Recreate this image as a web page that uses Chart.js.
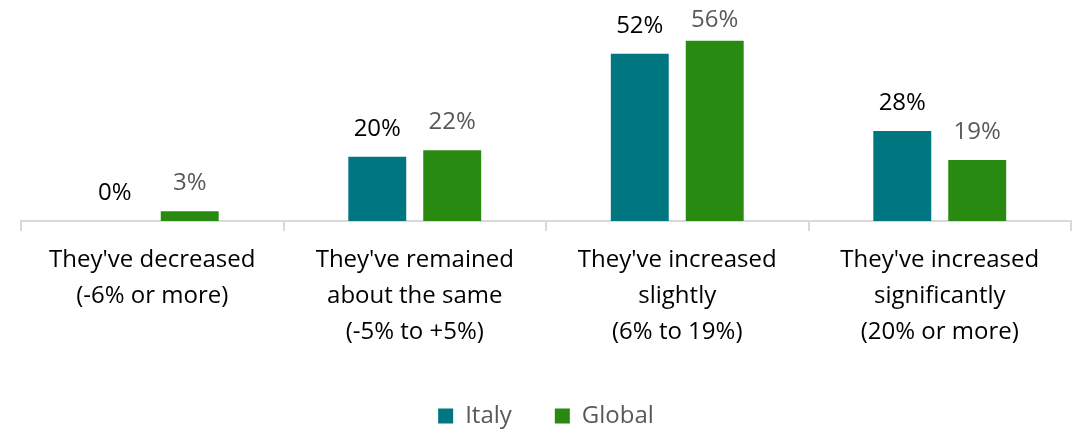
<!DOCTYPE html>
<html>
<head>
<meta charset="utf-8">
<script src="https://cdn.jsdelivr.net/npm/chart.js@4"></script>
<style>
  html, body { margin: 0; padding: 0; background: #fff; }
  #wrap { width: 1082px; height: 432px; }
</style>
</head>
<body>
<div id="wrap"><canvas id="chart"></canvas></div>
<script>
const categories = [
  ["They've decreased", "(-6% or more)"],
  ["They've remained", "about the same", "(-5% to +5%)"],
  ["They've increased", "slightly", "(6% to 19%)"],
  ["They've increased", "significantly", "(20% or more)"]
];
const italy = [0, 20, 52, 28];
const global = [3, 22, 56, 19];

const FONT = "'Open Sans', Lato, sans-serif";

/* value labels above bars */
const barLabels = {
  id: "barLabels",
  afterDatasetsDraw(chart) {
    const ctx = chart.ctx;
    ctx.save();
    ctx.font = "24px " + FONT;
    ctx.textAlign = "center";
    ctx.textBaseline = "middle";
    chart.data.datasets.forEach((ds, i) => {
      const meta = chart.getDatasetMeta(i);
      meta.data.forEach((bar, j) => {
        ctx.fillStyle = i === 0 ? "#000000" : "#595959";
        let y = bar.y - 28;
        if (y < 20) y = 20;
        ctx.fillText(ds.data[j] + "%", bar.x, y);
      });
    });
    ctx.restore();
  }
};

let chart = new Chart(document.getElementById("chart"), {
  type: "bar",
  data: {
    labels: categories,
    datasets: [
      { label: "Italy", data: italy, backgroundColor: "#007680" },
      { label: "Global", data: global, backgroundColor: "#288A10" }
    ]
  },
  options: {
    responsive: true,
    maintainAspectRatio: false,
    animation: false,
    categoryPercentage: 0.571,
    barPercentage: 0.773,
    layout: { padding: { top: 28, left: 21, right: 11, bottom: -6 } },
    plugins: {
      tooltip: { enabled: false },
      legend: {
        position: "bottom",
        labels: {
          font: { family: FONT, size: 24 },
          color: "#595959",
          boxWidth: 15,
          boxHeight: 15,
          padding: 43
        }
      }
    },
    scales: {
      x: {
        border: { color: "#d9d9d9", width: 2 },
        grid: {
          offset: true,
          drawOnChartArea: false,
          drawTicks: true,
          tickLength: 10,
          color: "#d9d9d9",
          lineWidth: 2
        },
        ticks: {
          color: "#000000",
          font: { family: FONT, size: 24, lineHeight: 1.5 },
          padding: 11,
          maxRotation: 0,
          autoSkip: false
        }
      },
      y: {
        display: false,
        min: 0,
        max: 60
      }
    }
  },
  plugins: [barLabels]
});
</script>
</body>
</html>
